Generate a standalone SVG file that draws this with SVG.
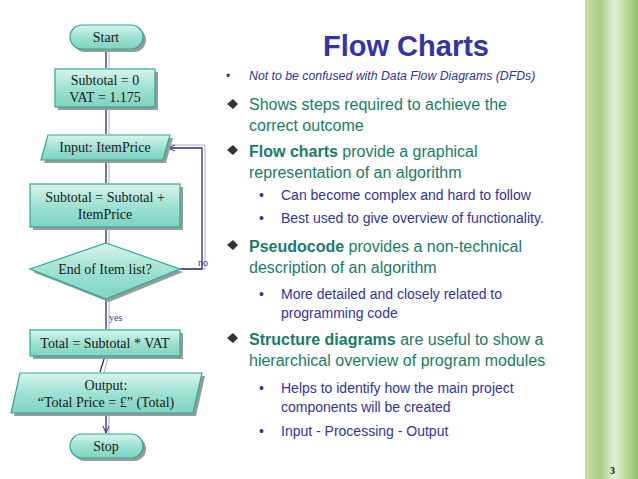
<svg xmlns="http://www.w3.org/2000/svg" width="638" height="479" viewBox="0 0 638 479">
<defs>
<linearGradient id="g" x1="0" y1="0" x2="0" y2="1"><stop offset="0" stop-color="#d8f4ee"/><stop offset="0.5" stop-color="#9ee2d2"/><stop offset="1" stop-color="#7fd3c0"/></linearGradient>
<linearGradient id="grass" x1="0" y1="0" x2="1" y2="0"><stop offset="0" stop-color="#c8e0a0"/><stop offset="0.3" stop-color="#a8cf88"/><stop offset="0.55" stop-color="#e4f0e0"/><stop offset="0.8" stop-color="#b6d890"/><stop offset="1" stop-color="#90c070"/></linearGradient>
<marker id="a" markerWidth="8" markerHeight="8" refX="7" refY="4" orient="auto" markerUnits="userSpaceOnUse"><path d="M0,1 L7,4 L0,7" fill="none" stroke="#2a2a8a" stroke-width="1"/></marker>
</defs>
<style>
.n{fill:url(#g);stroke:#2aa89a;stroke-width:1.2}
.sh{fill:#9a9a9a}
.t{font-family:"Liberation Serif",serif;font-size:14px;fill:#1a1a1a;text-anchor:middle}
.c{fill:none;stroke:#2a2a8a;stroke-width:1.3}
.c2{fill:none;stroke:#b0b0b0;stroke-width:1}
.b{font-family:"Liberation Sans",sans-serif;font-size:16px;fill:#1a7a6e}
.s{font-family:"Liberation Sans",sans-serif;font-size:14px;fill:#333399}
</style>
<rect width="638" height="479" fill="#fff"/>
<rect x="585" y="0" width="53" height="479" fill="url(#grass)"/>
<g id="connectors">
<path class="c2" d="M109,51 V69 M109,110 V135 M109,161 V184 M109,229 V244 M109,300 V330 M108,357 L104,373 M109,414 V434 M183,269 H205 V145 H170"/>
<path class="c" d="M106,50 V68 M106,109 V134 M106,160 V183 M106,228 V243 M106,299 V329 M105,356 L100,372 M106,413 V433" marker-end="url(#a)"/>
<path class="c" d="M180,269 H202 V148 H168" marker-end="url(#a)"/>
<text x="198" y="266" font-family="Liberation Serif,serif" font-size="10" fill="#333399">no</text>
<text x="109" y="321" font-family="Liberation Serif,serif" font-size="10" fill="#333399">yes</text>
</g>
<g id="start"><rect class="sh" x="73" y="28" width="73" height="24" rx="12"/><rect class="n" x="70" y="25" width="73" height="24" rx="12"/><text class="t" x="106" y="42">Start</text></g>
<g id="init"><rect class="sh" x="58" y="72" width="100" height="38"/><rect class="n" x="55" y="69" width="100" height="38"/><text class="t" x="105" y="85">Subtotal = 0</text><text class="t" x="105" y="102">VAT = 1.175</text></g>
<g id="input"><polygon class="sh" points="51,138 173,138 166,163 44,163"/><polygon class="n" points="48,135 170,135 163,160 41,160"/><text class="t" x="105" y="152">Input: ItemPrice</text></g>
<g id="add"><rect class="sh" x="33" y="187" width="150" height="43"/><rect class="n" x="30" y="184" width="150" height="43"/><text class="t" x="105" y="202">Subtotal = Subtotal +</text><text class="t" x="105" y="219">ItemPrice</text></g>
<g id="decision"><polygon class="sh" points="109,246 183,272 109,302 33,272"/><polygon class="n" points="106,243 180,269 106,299 30,269"/><text class="t" x="105" y="274">End of Item list?</text></g>
<g id="total"><rect class="sh" x="33" y="333" width="150" height="26"/><rect class="n" x="30" y="330" width="150" height="26"/><text class="t" x="105" y="348">Total = Subtotal * VAT</text></g>
<g id="output"><polygon class="sh" points="23,376 205,376 196,416 14,416"/><polygon class="n" points="20,373 202,373 193,413 11,413"/><text class="t" x="106" y="390">Output:</text><text class="t" x="106" y="407">“Total Price = £” (Total)</text></g>
<g id="stop"><rect class="sh" x="73" y="437" width="73" height="24" rx="12"/><rect class="n" x="70" y="434" width="73" height="24" rx="12"/><text class="t" x="106" y="451">Stop</text></g>
<text x="406" y="56" text-anchor="middle" font-family="Liberation Sans,sans-serif" font-weight="bold" font-size="29" fill="#3333aa">Flow Charts</text>
<g font-family="Liberation Sans,sans-serif">
<text x="226" y="80" font-size="12" fill="#333399">•</text>
<text x="249" y="80" font-size="12.3" font-style="italic" fill="#333399">Not to be confused with Data Flow Diagrams (DFDs)</text>
<g fill="#333">
<path d="M227,104 L238,104 L233,99 Z M227,104 L238,104 L233,109 Z"/>
<path d="M227,150 L238,150 L233,145 Z M227,150 L238,150 L233,155 Z"/>
<path d="M227,245 L238,245 L233,240 Z M227,245 L238,245 L233,250 Z"/>
<path d="M227,338 L238,338 L233,333 Z M227,338 L238,338 L233,343 Z"/>
</g>
<text class="b" x="249" y="110">Shows steps required to achieve the</text>
<text class="b" x="249" y="131">correct outcome</text>
<text class="b" x="249" y="157"><tspan font-weight="bold">Flow charts</tspan> provide a graphical</text>
<text class="b" x="249" y="178">representation of an algorithm</text>
<text class="s" x="259" y="200">•</text><text class="s" x="281" y="200">Can become complex and hard to follow</text>
<text class="s" x="259" y="223">•</text><text class="s" x="281" y="223">Best used to give overview of functionality.</text>
<text class="b" x="249" y="252"><tspan font-weight="bold">Pseudocode</tspan> provides a non-technical</text>
<text class="b" x="249" y="273">description of an algorithm</text>
<text class="s" x="259" y="299">•</text><text class="s" x="281" y="299">More detailed and closely related to</text>
<text class="s" x="281" y="318">programming code</text>
<text class="b" x="249" y="345"><tspan font-weight="bold">Structure diagrams</tspan> are useful to show a</text>
<text class="b" x="249" y="366">hierarchical overview of program modules</text>
<text class="s" x="259" y="393">•</text><text class="s" x="281" y="393">Helps to identify how the main project</text>
<text class="s" x="281" y="412">components will be created</text>
<text class="s" x="259" y="436">•</text><text class="s" x="281" y="436">Input - Processing - Output</text>
</g>
<text x="610" y="474" font-family="Liberation Serif,serif" font-weight="bold" font-size="10" fill="#111">3</text>
</svg>
